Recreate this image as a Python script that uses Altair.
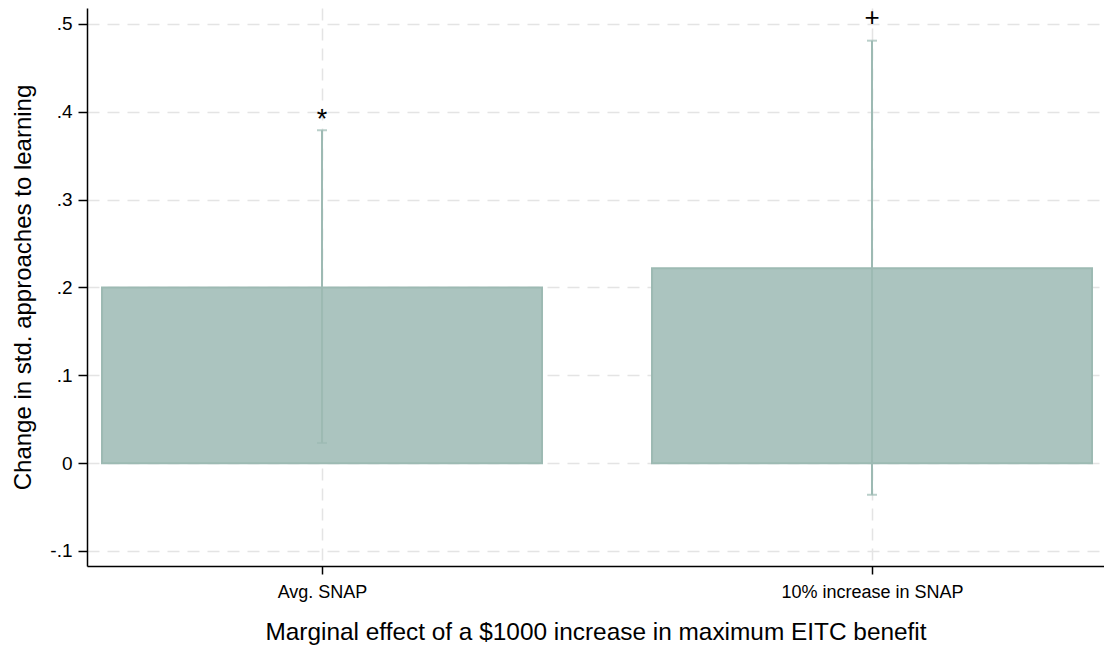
import altair as alt
import pandas as pd

# Marginal effects with 95% confidence bounds
groups = ["Avg. SNAP", "10% increase in SNAP"]
positions = [1, 2]
effects = [0.200, 0.222]
lower = [0.023, -0.036]
upper = [0.379, 0.481]
sig_marks = ["*", "+"]

df = pd.DataFrame({
    "group": groups,
    "pos": positions,
    "effect": effects,
    "lo": lower,
    "hi": upper,
    "sig": sig_marks,
})

FONT = "Liberation Sans"
BAR_FILL = "#abc4bf"
BAR_EDGE = "#9dbab3"
GRID = "#e4e4e4"

x_scale = alt.Scale(domain=[0.5727, 2.4218], nice=False, zero=False)
y_scale = alt.Scale(domain=[-0.1171, 0.5182], nice=False, zero=False)

label_expr = "datum.value == 1 ? 'Avg. SNAP' : '10% increase in SNAP'"

x_axis = alt.Axis(
    values=positions,
    labelExpr=label_expr,
    title="Marginal effect of a $1000 increase in maximum EITC benefit",
    titleFont=FONT, titleFontSize=24.4, titleFontWeight="normal", titleColor="#000",
    titlePadding=19,
    labelFont=FONT, labelFontSize=18, labelColor="#000", labelPadding=9, labelLimit=0,
    tickSize=8, tickColor="#000", tickWidth=1.5,
    domainColor="#000", domainWidth=1.5,
    grid=True, gridColor=GRID, gridDash=[12, 8], gridWidth=1.5,
)

# Stata-style numbers: ".5", "0", "-.1"
y_label_expr = (
    "datum.value == 0 ? '0' : "
    "(datum.value < 0 ? '-' : '') + replace(format(abs(datum.value), '.1f'), '0.', '.')"
)

y_axis = alt.Axis(
    values=[-0.1, 0, 0.1, 0.2, 0.3, 0.4, 0.5],
    labelExpr=y_label_expr,
    title="Change in std. approaches to learning",
    titleFont=FONT, titleFontSize=24, titleFontWeight="normal", titleColor="#000",
    titlePadding=14,
    labelFont=FONT, labelFontSize=19, labelColor="#000", labelPadding=6,
    tickSize=9, tickColor="#000", tickWidth=1.5,
    domainColor="#000", domainWidth=1.5,
    grid=True, gridColor=GRID, gridDash=[12, 8], gridWidth=1.5,
)

base = alt.Chart(df)

bars = base.transform_calculate(
    left="datum.pos - 0.4", right="datum.pos + 0.4"
).mark_rect(fill=BAR_FILL, stroke=BAR_EDGE, strokeWidth=2).encode(
    x=alt.X("left:Q", scale=x_scale, axis=x_axis),
    x2="right:Q",
    y=alt.Y("effect:Q", scale=y_scale, axis=y_axis),
    y2=alt.datum(0),
)

whisker = base.mark_rule(color=BAR_EDGE, strokeWidth=2).encode(
    x=alt.X("pos:Q", scale=x_scale),
    y=alt.Y("lo:Q", scale=y_scale),
    y2="hi:Q",
)

cap_lo = base.mark_tick(color=BAR_EDGE, orient="horizontal", size=10, thickness=2).encode(
    x=alt.X("pos:Q", scale=x_scale),
    y=alt.Y("lo:Q", scale=y_scale),
)
cap_hi = base.mark_tick(color=BAR_EDGE, orient="horizontal", size=10, thickness=2).encode(
    x=alt.X("pos:Q", scale=x_scale),
    y=alt.Y("hi:Q", scale=y_scale),
)

star = base.transform_filter("datum.sig == '*'").mark_text(
    font=FONT, fontSize=27, color="#000", baseline="alphabetic", dy=-2
).encode(
    x=alt.X("pos:Q", scale=x_scale),
    y=alt.Y("hi:Q", scale=y_scale),
    text="sig:N",
)
plus = base.transform_filter("datum.sig == '+'").mark_text(
    font=FONT, fontSize=26, color="#000", baseline="alphabetic", dy=-15
).encode(
    x=alt.X("pos:Q", scale=x_scale),
    y=alt.Y("hi:Q", scale=y_scale),
    text="sig:N",
)

chart = alt.layer(bars, whisker, cap_lo, cap_hi, star, plus).properties(
    width=1017,
    height=558,
    autosize="none",
    padding={"left": 87, "top": 8, "right": 0, "bottom": 83},
    background="white",
).configure_view(stroke=None)

chart.save("out.html", embed_options={"renderer": "svg", "actions": False})
